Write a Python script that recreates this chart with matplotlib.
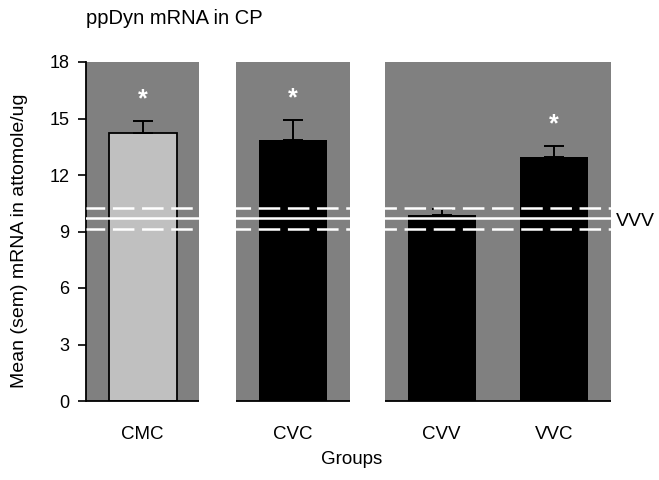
import matplotlib
matplotlib.use("Agg")
import matplotlib.pyplot as plt

plt.rcParams['font.family'] = ['Liberation Sans', 'DejaVu Sans']
plt.rcParams['lines.scale_dashes'] = False

groups = ["CMC", "CVC", "CVV", "VVC"]
means = [14.25, 13.87, 9.86, 12.96]
sems = [0.62, 1.03, 0.33, 0.59]
significant = [True, True, False, True]
bar_colors = ["#c0c0c0", "#000000", "#000000", "#000000"]
ref_label = "VVV"
ref_mean = 9.70
ref_upper = 10.25
ref_lower = 9.12
yticks = [0, 3, 6, 9, 12, 15, 18]

# layout (x positions in axis units)
positions = [56.5, 206.5, 355.5, 468.0]
bar_width = 68
panels = [(0, 113), (150, 264), (299, 525)]
panel_color = "#808080"

fig = plt.figure(figsize=(6.59, 4.80), dpi=100)
ax = fig.add_axes([86/659, 1 - 401/480, 525/659, 339/480])
ax.set_xlim(0, 525)
ax.set_ylim(0, 18)

for (x0, x1) in panels:
    ax.axvspan(x0, x1, color=panel_color, zorder=0, lw=0)
    ax.plot([x0, x1], [0, 0], color="black", lw=1.3, zorder=6, clip_on=False,
            solid_capstyle="butt")

for x, m, s, c in zip(positions, means, sems, bar_colors):
    ax.bar(x, m, width=bar_width, color=c, edgecolor="black",
           linewidth=1.3 if c != "#000000" else 0, zorder=2)
    ax.errorbar(x, m, yerr=[[0], [s]], fmt="none", ecolor="black",
                elinewidth=1.4, capsize=7, capthick=1.4, zorder=3)

for x, m, s, sig in zip(positions, means, sems, significant):
    if sig:
        ax.text(x, m + s + 1.15, "*", color="white", fontsize=18,
                fontweight="bold", ha="center", va="center", zorder=5)

ax.axhline(ref_mean, color="white", lw=1.8, zorder=4)
for v in (ref_upper, ref_lower):
    ax.axhline(v, color="white", lw=1.8, zorder=4,
               linestyle=(2, (15.5, 5.5)))
ax.text(1.01, ref_mean - 0.15, ref_label, transform=ax.get_yaxis_transform(),
        ha="left", va="center", fontsize=14)

for sp in ["top", "right", "bottom"]:
    ax.spines[sp].set_visible(False)
ax.spines["left"].set_linewidth(1.3)
ax.set_yticks(yticks)
ax.set_yticklabels([str(t) for t in yticks], fontsize=13)
ax.tick_params(axis="y", length=6, width=1.2, pad=6)
ax.set_xticks(positions)
ax.set_xticklabels(groups, fontsize=13.5)
ax.tick_params(axis="x", length=0, pad=18)

fig.text(352/659, 1 - 460/480, "Groups", ha="center", va="center", fontsize=13.5)
fig.text(20/659, 1 - 241/480, "Mean (sem) mRNA in attomole/ug", rotation=90,
         ha="center", va="center", fontsize=14)
fig.text(86/659, 1 - 19/480, "ppDyn mRNA in CP", ha="left", va="center",
         fontsize=14.5)

fig.savefig("out.png", dpi=100)
